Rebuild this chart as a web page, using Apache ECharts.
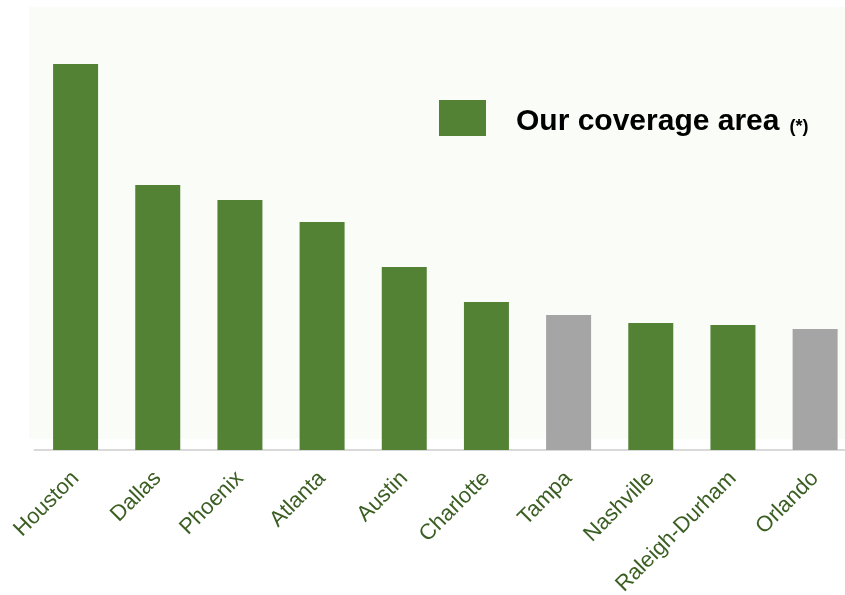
<!DOCTYPE html>
<html>
<head>
<meta charset="utf-8">
<script src="https://cdn.jsdelivr.net/npm/echarts@6/dist/echarts.min.js"></script>
<style>
  html, body { margin: 0; padding: 0; background: #fff; }
  #chart { width: 845px; height: 595px; }
</style>
</head>
<body>
<div id="chart"></div>
<script>
const cities = ["Houston", "Dallas", "Phoenix", "Atlanta", "Austin", "Charlotte", "Tampa", "Nashville", "Raleigh-Durham", "Orlando"]
const values = [386, 265, 250, 228, 183, 148, 135, 127, 125, 121]
// true = inside our coverage area (green), false = grey
const covered = [true, true, true, true, true, true, false, true, true, false]

const GREEN = "#548235"
const GREY = "#a5a5a5"

const chart = echarts.init(document.getElementById("chart"))

chart.setOption({
  animation: false,
  graphic: [
    {
      type: "rect",
      left: 29,
      top: 7,
      z: -10,
      shape: { width: 820, height: 432 },
      style: { fill: "#fafcf7" }
    }
  ],
  legend: {
    left: 439,
    top: 100,
    padding: 0,
    itemWidth: 47,
    itemHeight: 36,
    itemGap: 10,
    icon: "rect",
    data: ["Our coverage area"],
    formatter: name => `{a|${name}}{b|(*)}`,
    textStyle: {
      padding: [3, 0, 0, 25],
      rich: {
        a: { fontSize: 30, fontWeight: "bold", color: "#000", fontFamily: "Liberation Sans, Arial, sans-serif", verticalAlign: "bottom", lineHeight: 34 },
        b: { fontSize: 18, fontWeight: "bold", color: "#000", fontFamily: "Liberation Sans, Arial, sans-serif", verticalAlign: "bottom", lineHeight: 30, padding: [0, 0, 0, 10] }
      }
    }
  },
  grid: {
    left: 34.5,
    right: -11.2,
    top: 50,
    bottom: 145,
    containLabel: false,
    // the last bar runs past the right edge, as in the original
    outerBoundsMode: "none"
  },
  xAxis: {
    type: "category",
    data: cities,
    axisLine: { lineStyle: { color: "#d9d9d9", width: 2 } },
    axisTick: { show: false },
    axisLabel: {
      interval: 0,
      rotate: 45,
      margin: 25,
      color: "#3b5e22",
      fontSize: 22,
      fontFamily: "Liberation Sans, Arial, sans-serif"
    }
  },
  yAxis: {
    type: "value",
    min: 0,
    max: 400,
    show: false,
    splitLine: { show: false }
  },
  series: [
    {
      name: "Our coverage area",
      type: "bar",
      barWidth: 45,
      itemStyle: { color: GREEN },
      data: values.map((v, i) => ({
        value: v,
        itemStyle: { color: covered[i] ? GREEN : GREY }
      }))
    }
  ]
})
</script>
</body>
</html>
